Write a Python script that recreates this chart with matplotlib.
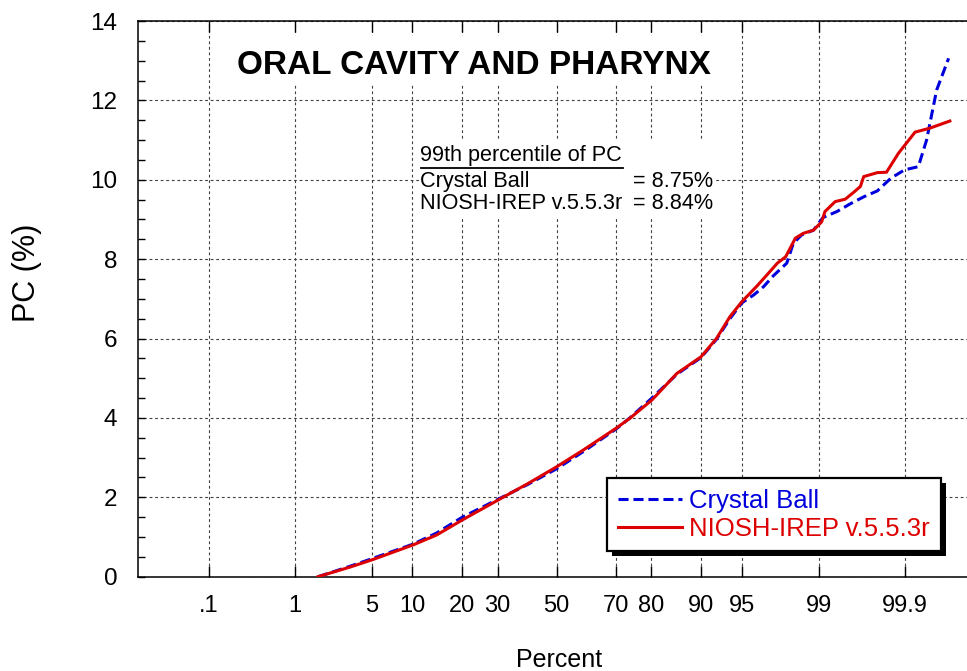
import matplotlib
matplotlib.use("Agg")
import matplotlib.pyplot as plt
from matplotlib.patches import Rectangle
from matplotlib.lines import Line2D
from matplotlib.ticker import FixedLocator, MultipleLocator, NullLocator
import numpy as np
from statistics import NormalDist

plt.rcParams['font.family'] = ['Liberation Sans', 'DejaVu Sans']

# cumulative percent vs PC
crystal_pct = [1.7, 3.3, 5.0, 10.1, 14.3, 20.1, 30.1, 40.0, 50.0, 59.3, 70.1, 74.2, 80.1,
               85.7, 90.0, 92.2, 93.8, 95.0, 96.0, 96.7, 97.28, 97.95, 98.22, 98.52, 98.87,
               99.1, 99.36, 99.54, 99.68, 99.78, 99.85, 99.9, 99.934, 99.949, 99.963, 99.975]
crystal_pc = [0.0, 0.26, 0.45, 0.82, 1.1, 1.5, 1.95, 2.33, 2.72, 3.15, 3.72, 4.0, 4.5,
              5.1, 5.52, 5.98, 6.5, 6.9, 7.1, 7.31, 7.58, 7.9, 8.4, 8.61, 8.73,
              9.05, 9.2, 9.39, 9.57, 9.72, 10.04, 10.25, 10.33, 11.0, 12.26, 13.06]

niosh_pct = [1.7, 3.3, 5.0, 10.1, 14.3, 20.1, 30.1, 40.0, 50.0, 59.3, 70.1, 74.2, 80.1,
             85.7, 90.0, 92.2, 93.8, 95.0, 96.2, 96.9, 97.5, 97.9, 98.3, 98.57, 98.87,
             99.07, 99.14, 99.33, 99.48, 99.58, 99.65, 99.68, 99.78, 99.83, 99.88, 99.927,
             99.954, 99.976]
niosh_pc = [0.0, 0.24, 0.42, 0.80, 1.05, 1.43, 1.93, 2.35, 2.77, 3.19, 3.74, 3.99, 4.45,
            5.12, 5.54, 6.0, 6.55, 6.93, 7.31, 7.6, 7.9, 8.06, 8.53, 8.65, 8.73,
            8.94, 9.2, 9.45, 9.51, 9.68, 9.83, 10.08, 10.18, 10.19, 10.67, 11.2,
            11.3, 11.48]

xticks = [0.1, 1, 5, 10, 20, 30, 50, 70, 80, 90, 95, 99, 99.9]
xticklabels = [".1", "1", "5", "10", "20", "30", "50", "70", "80", "90", "95", "99", "99.9"]

# normal probability scale
nd = NormalDist()
_ppf = np.vectorize(lambda p: nd.inv_cdf(p), otypes=[float])
_cdf = np.vectorize(lambda z: nd.cdf(z), otypes=[float])


def forward(p):
    p = np.clip(np.asarray(p, dtype=float) / 100.0, 1e-12, 1 - 1e-12)
    return _ppf(p)


def inverse(z):
    return _cdf(np.asarray(z, dtype=float)) * 100.0


W, H = 967, 671
fig = plt.figure(figsize=(W / 100, H / 100), dpi=100)
ax = fig.add_axes([138.3 / W, 1 - 576.7 / H, 1 - 138.3 / W, (576.7 - 21) / H])
ax.set_xscale('function', functions=(forward, inverse))
ax.set_xlim(float(inverse(-3.716)), float(inverse(3.644)))
ax.set_ylim(0, 14)

blue = '#0000dd'
red = '#dd0000'
ax.plot(crystal_pct, crystal_pc, color=blue, lw=2.2, ls=(0, (3.3, 1.6)),
        label='Crystal Ball', zorder=3)
ax.plot(niosh_pct, niosh_pc, color=red, lw=2.2, label='NIOSH-IREP v.5.5.3r', zorder=4)

ax.xaxis.set_major_locator(FixedLocator(xticks))
ax.xaxis.set_minor_locator(NullLocator())
ax.set_xticklabels(xticklabels)
ax.yaxis.set_major_locator(MultipleLocator(2))
ax.yaxis.set_minor_locator(MultipleLocator(0.5))

ax.tick_params(axis='x', which='major', direction='in', top=True, length=8, width=1,
               labelsize=17, pad=13)
ax.tick_params(axis='y', which='both', direction='in', length=5, width=1,
               labelsize=17.5, pad=15)
ax.spines['right'].set_visible(False)
for s in ['left', 'top', 'bottom']:
    ax.spines[s].set_linewidth(1.1)

ax.grid(True, which='major', color='0.25', lw=0.8, ls=(0, (2.5, 2.5)))

# title and annotation
ax.add_patch(Rectangle((228 / W, 1 - 84 / H), 488 / W, 48 / H, transform=fig.transFigure,
                       facecolor='white', edgecolor='none', zorder=2))
fig.text(237 / W, 1 - 74 / H, 'ORAL CAVITY AND PHARYNX', fontsize=24, fontweight='bold',
         ha='left', va='baseline')

ax.add_patch(Rectangle((419 / W, 1 - 218 / H), 296 / W, 77 / H, transform=fig.transFigure,
                       facecolor='white', edgecolor='none', zorder=2))
fig.text(420 / W, 1 - 161 / H, '99th percentile of PC', fontsize=15.6, ha='left', va='baseline')
fig.add_artist(Line2D([420.5 / W, 622.5 / W], [1 - 168 / H] * 2, color='black', lw=1.3))
fig.text(420 / W, 1 - 187 / H, 'Crystal Ball', fontsize=15.6, ha='left', va='baseline')
fig.text(420 / W, 1 - 209 / H, 'NIOSH-IREP v.5.5.3r', fontsize=15.6, ha='left', va='baseline')
fig.text(633 / W, 1 - 187 / H, '= 8.75%', fontsize=15.6, ha='left', va='baseline')
fig.text(633 / W, 1 - 209 / H, '= 8.84%', fontsize=15.6, ha='left', va='baseline')

# axis labels
fig.text(559 / W, 1 - 660 / H, 'Percent', fontsize=18, ha='center', va='center')
fig.text(27 / W, 1 - 273 / H, 'PC (%)', fontsize=22, rotation=90, ha='center', va='center')

# legend with a hard black shadow
leg = ax.legend(loc='upper left', bbox_to_anchor=(607 / W, 1 - 478 / H),
                bbox_transform=fig.transFigure, borderaxespad=0, fancybox=False,
                edgecolor='black', framealpha=1, fontsize=18.5, handlelength=2.5,
                handletextpad=0.28, labelspacing=0.15, borderpad=0.42)
leg.get_frame().set_linewidth(1.6)
for txt, c in zip(leg.get_texts(), [blue, red]):
    txt.set_color(c)

fig.canvas.draw()
bb = leg.get_window_extent().transformed(fig.transFigure.inverted())
ax.add_patch(Rectangle((bb.x0 + 5 / W, bb.y0 - 5 / H), bb.width, bb.height,
                       transform=fig.transFigure, facecolor='black', edgecolor='none',
                       zorder=4.9, clip_on=False))

fig.savefig('out.png', dpi=100)
